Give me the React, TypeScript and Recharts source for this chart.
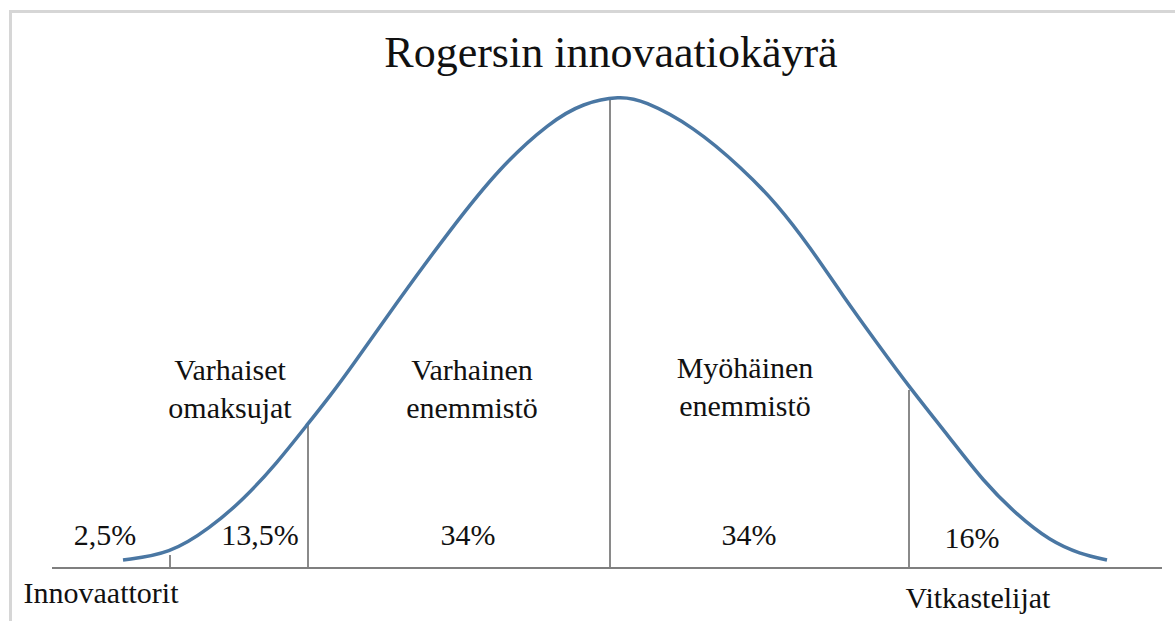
import React from 'react';
import { ComposedChart, Line, XAxis, YAxis, ReferenceLine, ReferenceDot } from 'recharts';

const FONT = '"Liberation Serif", "Times New Roman", serif';

const TITLE = 'Rogersin innovaatiokäyrä';

// Bell curve (horizontal position along axis, height above axis)
const curveX = [71, 118, 158, 191, 225, 255, 278, 298, 348, 398, 448, 498, 531, 568, 591, 641, 691, 725, 758, 791, 825, 858, 898, 931, 965, 998, 1028, 1055];
const curveY = [8, 14, 40, 68, 105, 143, 172, 199, 270, 338, 401, 446, 465, 472, 468, 442, 399, 364, 321, 272, 225, 180, 130, 87, 53, 27, 14, 8];

// Segment dividers
const dividerX = [118, 256, 558, 857];
const dividerTop = [13, 145, 468, 178];

// Shares of each group
const shareLabels = ['2,5%', '13,5%', '34%', '34%', '16%'];
const shareX = [53, 208, 416, 697, 920];
const shareY = [23, 23, 23, 23, 20];

// Group names
const groupLabels = [
  ['Varhaiset', 'omaksujat'],
  ['Varhainen', 'enemmistö'],
  ['Myöhäinen', 'enemmistö'],
];
const groupX = [178, 420, 693];
const groupY = [188, 188, 190];

// Axis end labels
const endLabels = ['Innovaattorit', 'Vitkastelijat'];
const endX = [49, 926];
const endDy = [35, 40];

const data = curveX.map((x, i) => ({ x, y: curveY[i] }));

const textLabel = (lines: string[], size: number, lineGap: number) => (props: any) => {
  const vb = props.viewBox || {};
  const cx = (vb.x ?? 0) + (vb.width ?? 0) / 2;
  const cy = (vb.y ?? 0) + (vb.height ?? 0) / 2;
  return (
    <text x={cx} y={cy} textAnchor="middle" fontFamily={FONT} fontSize={size} fill="#111">
      {lines.map((l, i) => (
        <tspan key={i} x={cx} dy={i === 0 ? 0 : lineGap}>
          {l}
        </tspan>
      ))}
    </text>
  );
};

const EndTick = (props: any) => {
  const { x, y, payload } = props;
  const idx = endX.indexOf(payload.value);
  if (idx < 0) return null;
  return (
    <text x={x} y={y + endDy[idx]} textAnchor="middle" fontFamily={FONT} fontSize={30} fill="#111">
      {endLabels[idx]}
    </text>
  );
};

export default function App() {
  return (
    <div style={{ position: 'absolute', left: 0, top: 0, width: 1175, height: 621, overflow: 'hidden', background: '#fff' }}>
      <div
        style={{
          position: 'absolute',
          left: 9,
          top: 10,
          width: 1166,
          height: 611,
          boxSizing: 'border-box',
          borderTop: '3px solid #d6d6d6',
          borderLeft: '3px solid #d6d6d6',
        }}
      />
      <div
        style={{
          position: 'absolute',
          left: 111,
          top: 31,
          width: 1000,
          textAlign: 'center',
          fontFamily: FONT,
          fontSize: 44,
          lineHeight: '44px',
          color: '#111',
          whiteSpace: 'nowrap',
        }}
      >
        {TITLE}
      </div>
      <div style={{ position: 'absolute', left: 0, top: 0 }}>
        <ComposedChart width={1175} height={621} data={data} margin={{ top: 88, right: 13, bottom: 0, left: 52 }}>
          <XAxis
            dataKey="x"
            type="number"
            domain={[0, 1110]}
            ticks={endX}
            interval={0}
            height={53}
            tickLine={false}
            tickSize={0}
            tickMargin={0}
            axisLine={{ stroke: '#7f7f7f', strokeWidth: 2 }}
            tick={<EndTick />}
          />
          <YAxis
            type="number"
            domain={[0, 480]}
            width={0}
            tick={false}
            tickLine={false}
            axisLine={{ stroke: '#7f7f7f', strokeWidth: 2 }}
          />
          {dividerX.map((x, i) => (
            <ReferenceLine
              key={`d${i}`}
              segment={[
                { x, y: 0 },
                { x, y: dividerTop[i] },
              ]}
              stroke="#8a8a8a"
              strokeWidth={2}
            />
          ))}
          <Line
            dataKey="y"
            type="basis"
            stroke="#4a77a3"
            strokeWidth={3.5}
            dot={false}
            activeDot={false}
            isAnimationActive={false}
          />
          {shareLabels.map((s, i) => (
            <ReferenceDot
              key={`s${i}`}
              x={shareX[i]}
              y={shareY[i]}
              r={0}
              fill="none"
              stroke="none"
              label={textLabel([s], 30, 0)}
            />
          ))}
          {groupLabels.map((g, i) => (
            <ReferenceDot
              key={`g${i}`}
              x={groupX[i]}
              y={groupY[i]}
              r={0}
              fill="none"
              stroke="none"
              label={textLabel(g, 30, 38)}
            />
          ))}
        </ComposedChart>
      </div>
    </div>
  );
}
